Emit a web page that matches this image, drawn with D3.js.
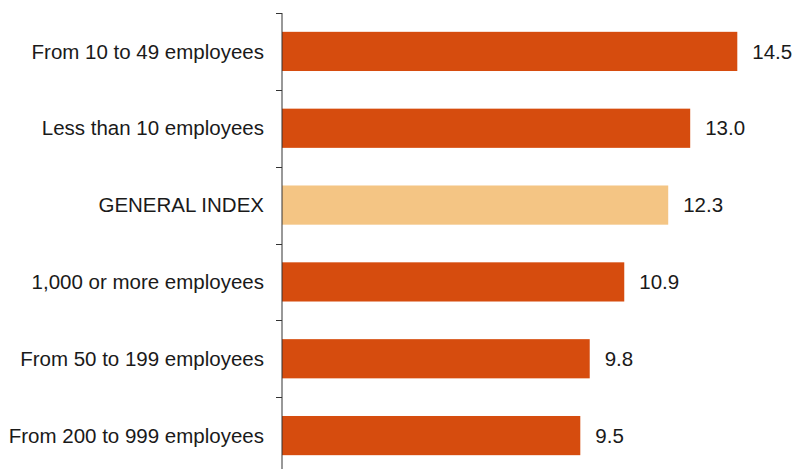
<!DOCTYPE html>
<html lang="en">
<head>
  <meta charset="UTF-8" />
  <title>Index by company size</title>
  <script src="https://d3js.org/d3.v7.min.js"></script>
  <style>
    body { margin: 0; padding: 0; background: #fff; }
    svg text { font-family: "Liberation Sans", Arial, sans-serif; fill: #1a1a1a; }
  </style>
</head>
<body>
  <div id="chart"></div>
  <script>
    const categories = [
      "From 10 to 49 employees",
      "Less than 10 employees",
      "GENERAL INDEX",
      "1,000 or more employees",
      "From 50 to 199 employees",
      "From 200 to 999 employees"
    ];
    const values = [14.5, 13.0, 12.3, 10.9, 9.8, 9.5];
    const highlight = "GENERAL INDEX";

    const width = 793, height = 469;
    const x0 = 282;

    const svg = d3.select("#chart").append("svg")
      .attr("width", width)
      .attr("height", height);

    const x = d3.scaleLinear().domain([0, 16]).range([x0, x0 + 502.4]);
    const y = d3.scaleBand().domain(categories).range([13, 474]).paddingInner(0.49).paddingOuter(0.245);

    svg.selectAll("rect.bar")
      .data(categories)
      .enter().append("rect")
      .attr("class", "bar")
      .attr("x", x(0))
      .attr("y", d => y(d))
      .attr("width", (d, i) => x(values[i]) - x(0))
      .attr("height", y.bandwidth())
      .attr("fill", d => d === highlight ? "#F4C584" : "#D64C0E");

    svg.selectAll("text.val")
      .data(categories)
      .enter().append("text")
      .attr("class", "val")
      .attr("x", (d, i) => x(values[i]) + 15)
      .attr("y", d => y(d) + y.bandwidth() / 2)
      .attr("dy", "0.35em")
      .attr("font-size", 20.5)
      .text((d, i) => values[i].toFixed(1));

    // category labels
    svg.selectAll("text.cat")
      .data(categories)
      .enter().append("text")
      .attr("class", "cat")
      .attr("x", x0 - 18)
      .attr("y", d => y(d) + y.bandwidth() / 2)
      .attr("dy", "0.35em")
      .attr("text-anchor", "end")
      .attr("font-size", 20.5)
      .text(d => d);

    // axis line with ticks on band boundaries
    const step = y.step();
    const tickYs = d3.range(categories.length).map(i => 13 + i * step);
    svg.append("line")
      .attr("x1", x0).attr("x2", x0)
      .attr("y1", 13).attr("y2", height)
      .attr("stroke", "#333").attr("stroke-width", 1);
    svg.selectAll("line.tick")
      .data(tickYs)
      .enter().append("line")
      .attr("class", "tick")
      .attr("x1", x0 - 6).attr("x2", x0)
      .attr("y1", d => Math.round(d) + 0.5).attr("y2", d => Math.round(d) + 0.5)
      .attr("stroke", "#333").attr("stroke-width", 1);
  </script>
</body>
</html>
